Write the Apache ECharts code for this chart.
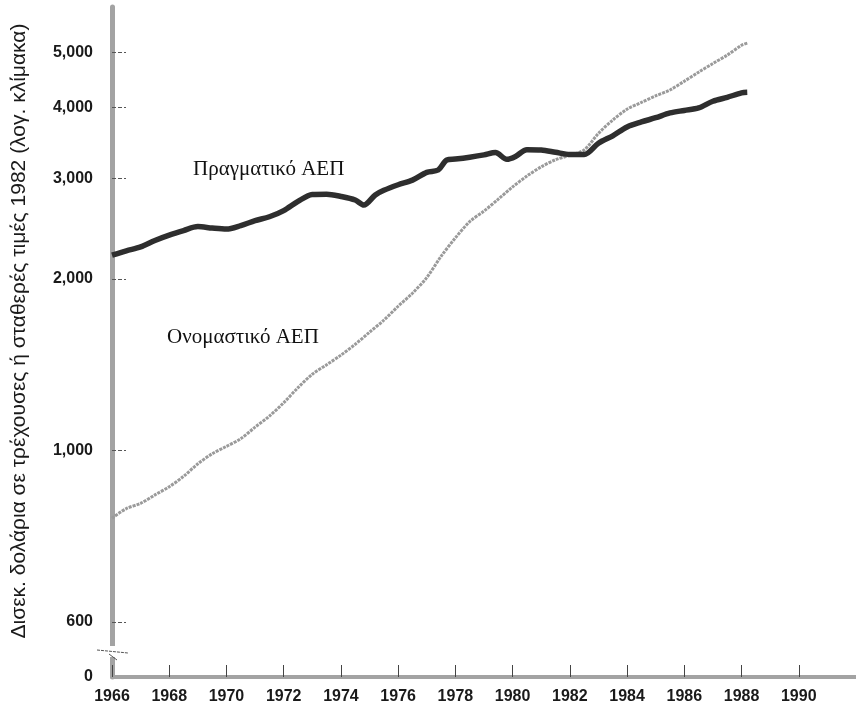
<!DOCTYPE html>
<html>
<head>
<meta charset="utf-8">
<script src="https://cdn.jsdelivr.net/npm/echarts@6/dist/echarts.min.js"></script>
<style>
  html, body { margin: 0; padding: 0; background: #fff; }
  #chart { width: 856px; height: 711px; }
</style>
</head>
<body>
<div id="chart"></div>
<script>
// Πραγματικό ΑΕΠ (δισεκ. δολάρια, σταθερές τιμές 1982)
var realYears = [1966, 1966.5, 1967, 1967.5, 1968, 1968.5, 1969, 1969.5, 1970, 1970.5,
    1971, 1971.5, 1972, 1972.5, 1973, 1973.5, 1974, 1974.5, 1974.8, 1975.2,
    1975.5, 1976, 1976.5, 1977, 1977.4, 1977.7, 1978, 1978.5, 1979, 1979.4,
    1979.8, 1980.1, 1980.5, 1981, 1981.5, 1982, 1982.5, 1983, 1983.5, 1984,
    1984.5, 1985, 1985.5, 1986, 1986.5, 1987, 1987.5, 1988, 1988.2];
var realValues = [2200, 2240, 2275, 2335, 2386, 2430, 2470, 2455, 2445, 2480,
    2530, 2570, 2635, 2735, 2812, 2815, 2790, 2750, 2695, 2807,
    2860, 2925, 2980, 3075, 3105, 3233, 3245, 3270, 3300, 3331,
    3242, 3280, 3370, 3365, 3335, 3305, 3305, 3460, 3565, 3695,
    3770, 3835, 3910, 3950, 3990, 4100, 4165, 4240, 4250];

// Ονομαστικό ΑΕΠ (δισεκ. δολάρια, τρέχουσες τιμές)
var nominalYears = [1966, 1966.5, 1967, 1967.5, 1968, 1968.5, 1969, 1969.5, 1970, 1970.5,
    1971, 1971.5, 1972, 1972.5, 1973, 1973.5, 1974, 1974.5, 1975, 1975.5,
    1976, 1976.5, 1977, 1977.5, 1978, 1978.5, 1979, 1979.5, 1980, 1980.5,
    1981, 1981.5, 1982, 1982.5, 1983, 1983.5, 1984, 1984.5, 1985, 1985.5,
    1986, 1986.5, 1987, 1987.5, 1988, 1988.2];
var nominalValues = [760, 790, 807, 835, 863, 900, 947, 986, 1016, 1048,
    1098, 1148, 1212, 1288, 1360, 1413, 1469, 1535, 1612, 1692,
    1790, 1887, 2010, 2190, 2360, 2520, 2630, 2760, 2900, 3030,
    3145, 3236, 3295, 3367, 3600, 3800, 3970, 4080, 4190, 4290,
    4445, 4610, 4775, 4940, 5140, 5185];

var yTickValues = [400, 500, 1000, 2000, 3000, 4000, 5000];
var yTickLabels = ['0', '600', '1,000', '2,000', '3,000', '4,000', '5,000'];
var xLabels = ['1966', '1968', '1970', '1972', '1974', '1976', '1978', '1980', '1982', '1984', '1986', '1988', '1990'];

function pairs(xs, ys) {
    return xs.map(function (x, i) { return [x, ys[i]]; });
}

function yLabel(v) {
    var best = 0;
    for (var i = 1; i < yTickValues.length; i++) {
        if (Math.abs(Math.log(yTickValues[i] / v)) < Math.abs(Math.log(yTickValues[best] / v))) best = i;
    }
    return yTickLabels[best];
}

var chart = echarts.init(document.getElementById('chart'));

var option = {
    backgroundColor: '#fff',
    animation: false,
    grid: { left: 112, right: 0, top: 7, bottom: 34, outerBoundsMode: 'none', containLabel: false },
    xAxis: {
        type: 'value',
        min: 1966,
        max: 1992,
        interval: 2,
        axisLine: { show: true, lineStyle: { color: '#a3a3a3', width: 4 } },
        axisTick: { show: true, inside: true, length: 12, lineStyle: { color: '#444', width: 1 } },
        splitLine: { show: false },
        axisLabel: {
            margin: 12,
            color: '#1a1a1a',
            fontFamily: 'Liberation Sans',
            fontWeight: 'bold',
            fontSize: 16,
            formatter: function (v) {
                var s = String(Math.round(v));
                return xLabels.indexOf(s) >= 0 ? s : '';
            }
        }
    },
    yAxis: {
        type: 'log',
        logBase: 10,
        min: 400,
        max: 6000,
        name: 'Δισεκ. δολάρια σε τρέχουσες ή σταθερές τιμές 1982 (λογ. κλίμακα)',
        nameLocation: 'middle',
        nameGap: 82,
        nameRotate: 90,
        nameTextStyle: {
            color: '#1a1a1a',
            fontFamily: 'Liberation Sans',
            fontSize: 21,
            padding: [0, 0, 0, 22]
        },
        axisLine: { show: true, onZero: false, lineStyle: { color: '#a3a3a3', width: 5 } },
        axisTick: {
            show: true,
            inside: true,
            length: 14,
            customValues: yTickValues.slice(1),
            lineStyle: { color: '#555', width: 1, type: [4, 2] }
        },
        minorTick: { show: false },
        splitLine: { show: false },
        axisLabel: {
            margin: 19,
            color: '#1a1a1a',
            fontFamily: 'Liberation Sans',
            fontWeight: 'bold',
            fontSize: 16,
            customValues: yTickValues,
            formatter: yLabel
        }
    },
    graphic: [
        { type: 'rect', shape: { x: 104, y: 646, width: 18, height: 11 }, style: { fill: '#fff' }, z: 100 },
        { type: 'line', shape: { x1: 97, y1: 650, x2: 128, y2: 653 }, style: { stroke: '#555', lineWidth: 1, lineDash: [3, 1] }, z: 101 },
        { type: 'line', shape: { x1: 109, y1: 654, x2: 117, y2: 660 }, style: { stroke: '#555', lineWidth: 1 }, z: 101 },
        {
            type: 'text', left: 193, top: 159, z: 50,
            style: { text: 'Πραγματικό ΑΕΠ', fill: '#111', font: '21px "Liberation Serif"' }
        },
        {
            type: 'text', left: 167, top: 327, z: 50,
            style: { text: 'Ονομαστικό ΑΕΠ', fill: '#111', font: '21px "Liberation Serif"' }
        }
    ],
    series: [
        {
            name: 'Πραγματικό ΑΕΠ',
            type: 'line',
            data: pairs(realYears, realValues),
            showSymbol: false,
            smooth: 0.3,
            lineStyle: { color: '#2e2e2e', width: 5.5 },
            z: 3
        },
        {
            name: 'Ονομαστικό ΑΕΠ',
            type: 'line',
            data: pairs(nominalYears, nominalValues),
            showSymbol: false,
            smooth: 0.3,
            lineStyle: { color: '#9a9a9a', width: 3, type: [3, 1] },
            z: 2
        }
    ]
};

chart.setOption(option);
</script>
</body>
</html>
